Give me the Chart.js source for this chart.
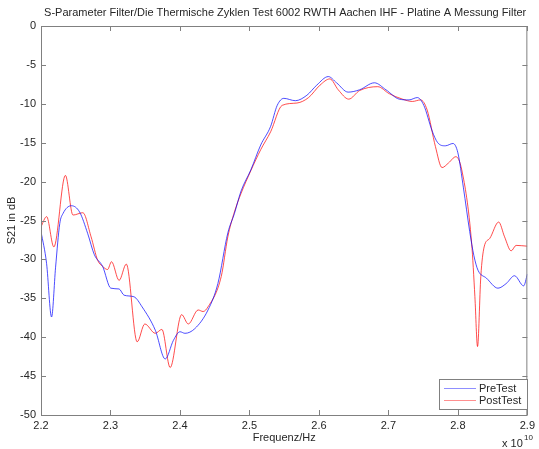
<!DOCTYPE html>
<html><head><meta charset="utf-8">
<script src="https://cdn.jsdelivr.net/npm/chart.js@4/dist/chart.umd.min.js"></script>
<style>html,body{margin:0;padding:0;background:#fff}#wrap{width:539px;height:449px;position:relative}</style>
</head><body><div id="wrap"><canvas id="c" width="539" height="449"></canvas></div>
<script>
const titleText = "S-Parameter Filter/Die Thermische Zyklen Test 6002 RWTH Aachen IHF - Platine A Messung Filter";
const xLabel = "Frequenz/Hz";
const yLabel = "S21 in dB";
const seriesNames = ["PreTest", "PostTest"];
const xTicks = [2.2, 2.3, 2.4, 2.5, 2.6, 2.7, 2.8, 2.9];
const yTicks = [-50, -45, -40, -35, -30, -25, -20, -15, -10, -5, 0];

const preFreq = [2.200,2.208,2.2152,2.221,2.227,2.2317,2.2436,2.2555,2.2673,2.2768,2.2887,2.3005,2.3124,2.3195,2.3337,2.3455,2.3645,2.3788,2.3906,2.4001,2.4072,2.4214,2.4404,2.4546,2.4689,2.4784,2.4880,2.502,2.5162,2.5305,2.540,2.5495,2.5661,2.5827,2.5969,2.6135,2.6254,2.642,2.6585,2.6799,2.6965,2.7155,2.7297,2.7416,2.751,2.763,2.771,2.782,2.793,2.800,2.808,2.817,2.823,2.829,2.841,2.8577,2.8696,2.8815,2.8947,2.900];
const preS21 = [-26.4,-30.5,-37.4,-31.0,-25.4,-24.1,-23.1,-23.9,-26.7,-29.4,-30.9,-33.7,-33.8,-34.6,-34.8,-36.1,-39.1,-42.8,-40.4,-39.3,-39.5,-38.9,-36.5,-33.1,-26.6,-24.1,-21.2,-18.5,-15.3,-12.9,-10.2,-9.3,-9.6,-8.9,-7.6,-6.5,-7.3,-8.5,-8.2,-7.3,-8.2,-9.4,-9.5,-9.2,-10.2,-13.5,-15.0,-15.4,-15.1,-16.3,-20.8,-26.4,-29.5,-31.4,-32.4,-33.7,-33.1,-32.1,-33.4,-31.9];

const postFreq = [2.200,2.2081,2.2185,2.2351,2.246,2.2602,2.2721,2.2815,2.2887,2.2958,2.3015,2.3124,2.3228,2.3384,2.3494,2.3645,2.374,2.3859,2.4024,2.412,2.4262,2.4333,2.4404,2.4594,2.4689,2.4784,2.4880,2.502,2.5162,2.5305,2.5471,2.5684,2.5851,2.6016,2.6158,2.6278,2.6429,2.6585,2.6847,2.7012,2.7203,2.7345,2.7463,2.7558,2.7677,2.7772,2.7866,2.7971,2.8056,2.8198,2.8245,2.8283,2.8330,2.8378,2.8459,2.8587,2.8672,2.8767,2.8838,2.900];
const postS21 = [-25.8,-24.5,-28.4,-19.2,-24.3,-24.0,-27.1,-30.1,-30.9,-31.3,-30.3,-32.7,-30.6,-40.6,-38.3,-39.5,-39.0,-43.9,-37.1,-38.3,-36.5,-36.7,-36.1,-32.2,-27.1,-23.9,-21.5,-18.6,-15.9,-13.6,-10.2,-9.9,-9.2,-7.6,-6.8,-8.2,-9.4,-8.3,-7.8,-8.7,-9.4,-9.7,-9.5,-10.8,-15.5,-18.2,-17.6,-16.8,-18.5,-27.9,-34.8,-41.2,-32.2,-28.4,-27.3,-25.2,-27.1,-28.9,-28.2,-28.3];

const colors = ["rgba(0,0,255,0.7)", "rgba(255,0,0,0.7)"];
const legendColors = ["#8f8fff", "#ff8f8f"];
const FONT = "Arial, 'Liberation Sans', sans-serif";
const AX = "#808080";
const TX = "#262626";

const toPts = (xs, ys) => xs.map((x, i) => ({x: x, y: ys[i]}));

const decor = {
  id: 'decor',
  afterDraw(chart) {
    const ctx = chart.ctx, a = chart.chartArea;
    const xs = chart.scales.x, ys = chart.scales.y;
    ctx.save();
    ctx.strokeStyle = AX; ctx.lineWidth = 1;
    ctx.strokeRect(a.left + 0.5, a.top + 0.5, a.right - a.left - 1, a.bottom - a.top);
    ctx.beginPath();
    xTicks.forEach(v => {
      const px = Math.round(xs.getPixelForValue(v)) + 0.5;
      ctx.moveTo(px, a.bottom); ctx.lineTo(px, a.bottom - 5);
      ctx.moveTo(px, a.top); ctx.lineTo(px, a.top + 5);
    });
    yTicks.forEach(v => {
      const py = Math.round(ys.getPixelForValue(v)) + 0.5;
      ctx.moveTo(a.left, py); ctx.lineTo(a.left + 5, py);
      ctx.moveTo(a.right, py); ctx.lineTo(a.right - 5, py);
    });
    ctx.stroke();
    // title
    ctx.fillStyle = TX;
    ctx.font = "11px " + FONT;
    ctx.textAlign = "center"; ctx.textBaseline = "middle";
    ctx.fillText(titleText, (a.left + a.right) / 2 + 1, 13);
    // x label
    ctx.fillText(xLabel, (a.left + a.right) / 2, 438);
    // y label
    ctx.save();
    ctx.translate(12, (a.top + a.bottom) / 2);
    ctx.rotate(-Math.PI / 2);
    ctx.fillText(yLabel, 0, 0);
    ctx.restore();
    // exponent
    ctx.textAlign = "left"; ctx.textBaseline = "alphabetic";
    ctx.fillText("x 10", 502, 447);
    ctx.font = "8px " + FONT;
    ctx.fillText("10", 524, 440);
    // legend
    const lx = 439, ly = 379, lw = 88, lh = 30;
    ctx.fillStyle = "#fff";
    ctx.fillRect(lx, ly, lw, lh);
    ctx.strokeStyle = AX;
    ctx.strokeRect(lx + 0.5, ly + 0.5, lw, lh);
    ctx.font = "11px " + FONT;
    ctx.textBaseline = "middle";
    seriesNames.forEach((n, i) => {
      const yy = ly + 9.5 + i * 12;
      ctx.strokeStyle = legendColors[i];
      ctx.beginPath(); ctx.moveTo(444, yy); ctx.lineTo(476, yy); ctx.stroke();
      ctx.fillStyle = TX;
      ctx.fillText(n, 479, yy);
    });
    ctx.restore();
  }
};

new Chart(document.getElementById('c'), {
  type: 'line',
  data: {
    datasets: [
      {label: seriesNames[0], data: toPts(preFreq, preS21), borderColor: colors[0], borderWidth: 1, pointRadius: 0, cubicInterpolationMode: 'monotone', fill: false},
      {label: seriesNames[1], data: toPts(postFreq, postS21), borderColor: colors[1], borderWidth: 1, pointRadius: 0, cubicInterpolationMode: 'monotone', fill: false}
    ]
  },
  options: {
    responsive: false,
    animation: false,
    layout: {padding: {top: 26, right: 6, left: 0, bottom: 0}},
    plugins: {legend: {display: false}, title: {display: false}, tooltip: {enabled: false}},
    scales: {
      x: {
        type: 'linear', min: 2.2, max: 2.9,
        afterBuildTicks: s => { s.ticks = xTicks.map(v => ({value: v})); },
        afterFit: s => { s.height = 34; },
        grid: {display: false, drawTicks: false, tickLength: 0}, border: {display: false},
        ticks: {padding: 4, color: TX, font: {family: FONT, size: 11}, maxRotation: 0, autoSkip: false, callback: v => Number(v).toFixed(1)}
      },
      y: {
        type: 'linear', min: -50, max: 0,
        afterBuildTicks: s => { s.ticks = yTicks.map(v => ({value: v})); },
        afterFit: s => { s.width = 41; },
        grid: {display: false, drawTicks: false, tickLength: 0}, border: {display: false},
        ticks: {padding: 5, color: TX, font: {family: FONT, size: 11}, autoSkip: false, callback: v => String(v)}
      }
    }
  },
  plugins: [decor]
});
</script></body></html>
